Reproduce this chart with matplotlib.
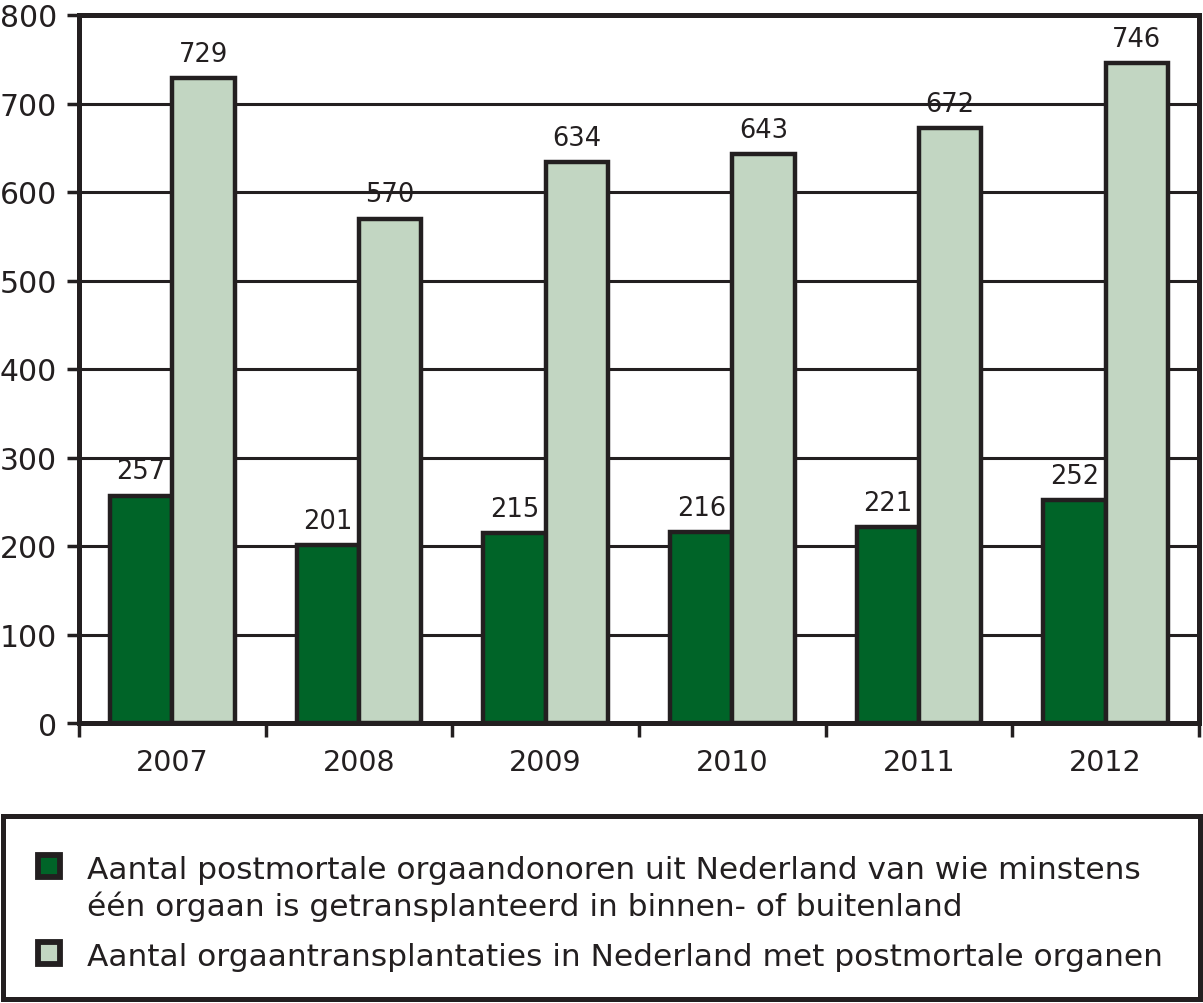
import matplotlib.pyplot as plt
import numpy as np
from matplotlib.patches import Rectangle

years = ['2007', '2008', '2009', '2010', '2011', '2012']
donors = [257, 201, 215, 216, 221, 252]
transplants = [729, 570, 634, 643, 672, 746]
legend_labels = [
    'Aantal postmortale orgaandonoren uit Nederland van wie minstens\néén orgaan is getransplanteerd in binnen- of buitenland',
    'Aantal orgaantransplantaties in Nederland met postmortale organen',
]

dark = '#006428'
light = '#c2d6c2'
ink = '#231f20'

plt.rcParams['font.family'] = ['DejaVu Sans']

W, H = 1203, 1004
fig = plt.figure(figsize=(W / 100, H / 100), dpi=100)
ax = fig.add_axes([79 / W, 280 / H, (1199 - 79) / W, (724 - 16) / H])

x = np.arange(len(years))
w = 1 / 3
b1 = ax.bar(x - w / 2, donors, w, color=dark, edgecolor=ink, linewidth=3.2, zorder=3)
b2 = ax.bar(x + w / 2, transplants, w, color=light, edgecolor=ink, linewidth=3.2, zorder=3)

for bars, vals in ((b1, donors), (b2, transplants)):
    for r, v in zip(bars, vals):
        ax.annotate(str(v), (r.get_x() + r.get_width() / 2, v), xytext=(0, 8),
                    textcoords='offset points', ha='center', va='bottom',
                    fontsize=18.5, color=ink)

ax.set_xlim(-0.5, len(years) - 0.5)
ax.set_ylim(0, 800)
ax.set_yticks(range(0, 801, 100))
ax.yaxis.grid(True, color=ink, linewidth=2.2, zorder=0)
ax.set_axisbelow(True)

# major ticks sit between the years, labels on minor ticks
ax.set_xticks(np.arange(len(years) + 1) - 0.5)
ax.set_xticklabels([])
ax.set_xticks(x, minor=True)
ax.set_xticklabels(years, minor=True)
ax.tick_params(axis='x', which='major', direction='out', length=10, width=2.5, color=ink)
ax.tick_params(axis='x', which='minor', length=0, pad=18, labelsize=20.5, labelcolor=ink)
ax.tick_params(axis='y', direction='out', length=9, width=2.5, color=ink,
               labelsize=21.5, labelcolor=ink, pad=7)

for s in ax.spines.values():
    s.set_linewidth(3.6)
    s.set_color(ink)

# legend, drawn by hand so the square lines up with the first text line
fig.patches.append(Rectangle((3 / W, 4 / H), 1197 / W, 183 / H,
                             transform=fig.transFigure, fill=False,
                             edgecolor=ink, linewidth=3.6))
sq_tops = [853, 940]
baselines = [[879, 916], [966]]
for col, top, label, bls in zip((dark, light), sq_tops, legend_labels, baselines):
    fig.patches.append(Rectangle((38 / W, (H - top - 25) / H), 22 / W, 22 / H,
                                 transform=fig.transFigure, facecolor=col,
                                 edgecolor=ink, linewidth=4.2))
    for line, bl in zip(label.split('\n'), bls):
        fig.text(87 / W, (H - bl) / H, line, fontsize=22.5, color=ink,
                 ha='left', va='baseline')

fig.savefig('out.png', dpi=100)
